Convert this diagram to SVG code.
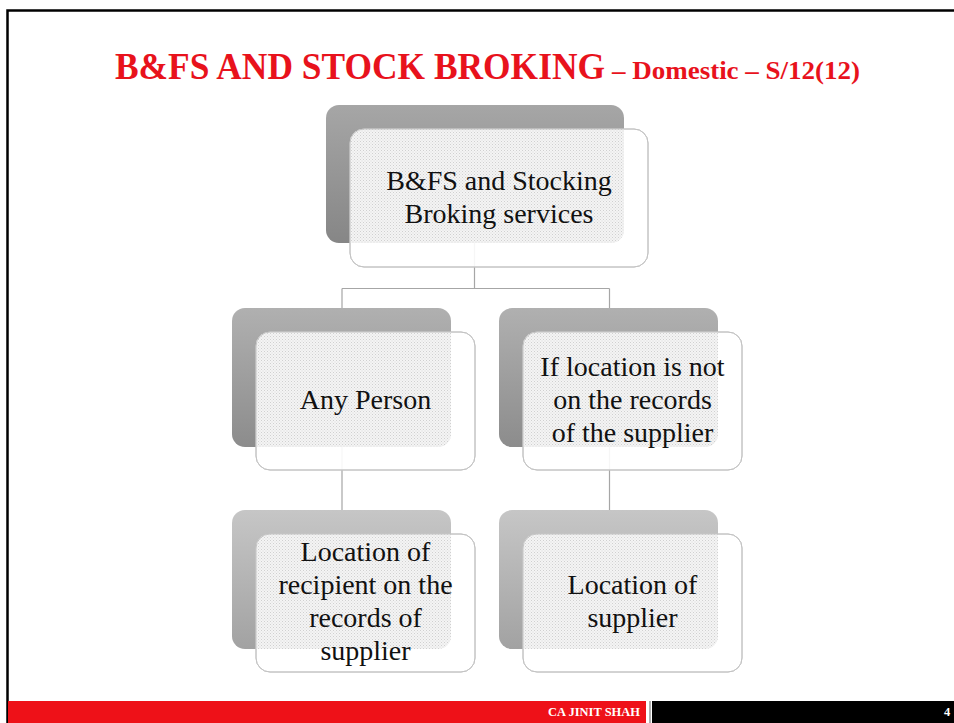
<svg xmlns="http://www.w3.org/2000/svg" width="954" height="723" viewBox="0 0 954 723">
<defs>
<linearGradient id="g1" x1="0" y1="0" x2="0" y2="1"><stop offset="0" stop-color="#a6a6a6"/><stop offset="1" stop-color="#868686"/></linearGradient>
<linearGradient id="g2" x1="0" y1="0" x2="0" y2="1"><stop offset="0" stop-color="#b0b0b0"/><stop offset="1" stop-color="#8c8c8c"/></linearGradient>
<linearGradient id="g3" x1="0" y1="0" x2="0" y2="1"><stop offset="0" stop-color="#c6c6c6"/><stop offset="1" stop-color="#a2a2a2"/></linearGradient>
<pattern id="dots" width="3" height="3" patternUnits="userSpaceOnUse"><rect width="3" height="3" fill="#f4f4f4"/><rect x="0" y="0" width="1" height="1" fill="#d0d0d0"/><rect x="1.5" y="1.5" width="1" height="1" fill="#d8d8d8"/></pattern>
<clipPath id="c0"><rect x="350" y="129" width="298" height="138" rx="14"/></clipPath>
<clipPath id="c1"><rect x="256" y="332" width="219" height="138" rx="14"/></clipPath>
<clipPath id="c2"><rect x="523" y="332" width="219" height="138" rx="14"/></clipPath>
<clipPath id="c3"><rect x="256" y="534" width="219" height="138" rx="14"/></clipPath>
<clipPath id="c4"><rect x="523" y="534" width="219" height="138" rx="14"/></clipPath>
</defs>
<style>
.front{fill:#ffffff;fill-opacity:0.9;stroke:#c4c4c4;stroke-width:1}
.lbl{font-family:"Liberation Serif",serif;font-size:28px;fill:#111111;text-anchor:middle}
.conn{stroke:#a6a6a6;stroke-width:1.2;fill:none}
</style>
<rect x="0" y="0" width="954" height="723" fill="#ffffff"/>
<path d="M7.5 723 V10.5 H954" fill="none" stroke="#000000" stroke-width="2.5"/>
<g id="title">
<text x="115" y="79" font-family="Liberation Serif,serif" font-weight="bold" font-size="37" fill="#e8121c" textLength="490" lengthAdjust="spacingAndGlyphs">B&amp;FS AND STOCK BROKING</text>
<text x="612" y="79" font-family="Liberation Serif,serif" font-weight="bold" font-size="25" fill="#e8121c" textLength="248" lengthAdjust="spacingAndGlyphs">– Domestic – S/12(12)</text>
</g>
<g id="connectors">
<path class="conn" d="M474.5 243 V288.5 M342 288.5 H609.5 M342 288.5 V308 M609.5 288.5 V308"/>
<path class="conn" d="M342 447 V510 M609.5 447 V510"/>
</g>
<g id="node-top">
<rect x="326" y="105" width="298" height="138" rx="13" fill="url(#g1)"/>
<rect class="front" x="350" y="129" width="298" height="138" rx="14"/>
<rect x="326" y="105" width="298" height="138" rx="13" fill="url(#dots)" clip-path="url(#c0)"/>
<rect x="350" y="129" width="298" height="138" rx="14" fill="none" stroke="#c4c4c4"/>
<text class="lbl" x="499" y="190">B&amp;FS and Stocking</text>
<text class="lbl" x="499" y="223">Broking services</text>
</g>
<g id="node-any-person">
<rect x="232" y="308" width="219" height="139" rx="13" fill="url(#g2)"/>
<rect class="front" x="256" y="332" width="219" height="138" rx="14"/>
<rect x="232" y="308" width="219" height="139" rx="13" fill="url(#dots)" clip-path="url(#c1)"/>
<rect x="256" y="332" width="219" height="138" rx="14" fill="none" stroke="#c4c4c4"/>
<text class="lbl" x="365.5" y="409">Any Person</text>
</g>
<g id="node-not-on-records">
<rect x="499" y="308" width="219" height="139" rx="13" fill="url(#g2)"/>
<rect class="front" x="523" y="332" width="219" height="138" rx="14"/>
<rect x="499" y="308" width="219" height="139" rx="13" fill="url(#dots)" clip-path="url(#c2)"/>
<rect x="523" y="332" width="219" height="138" rx="14" fill="none" stroke="#c4c4c4"/>
<text class="lbl" x="632.5" y="376">If location is not</text>
<text class="lbl" x="632.5" y="409">on the records</text>
<text class="lbl" x="632.5" y="442">of the supplier</text>
</g>
<g id="node-location-recipient">
<rect x="232" y="510" width="219" height="139" rx="13" fill="url(#g3)"/>
<rect class="front" x="256" y="534" width="219" height="138" rx="14"/>
<rect x="232" y="510" width="219" height="139" rx="13" fill="url(#dots)" clip-path="url(#c3)"/>
<rect x="256" y="534" width="219" height="138" rx="14" fill="none" stroke="#c4c4c4"/>
<text class="lbl" x="365.5" y="561">Location of</text>
<text class="lbl" x="365.5" y="594">recipient on the</text>
<text class="lbl" x="365.5" y="627">records of</text>
<text class="lbl" x="365.5" y="660">supplier</text>
</g>
<g id="node-location-supplier">
<rect x="499" y="510" width="219" height="139" rx="13" fill="url(#g3)"/>
<rect class="front" x="523" y="534" width="219" height="138" rx="14"/>
<rect x="499" y="510" width="219" height="139" rx="13" fill="url(#dots)" clip-path="url(#c4)"/>
<rect x="523" y="534" width="219" height="138" rx="14" fill="none" stroke="#c4c4c4"/>
<text class="lbl" x="632.5" y="594">Location of</text>
<text class="lbl" x="632.5" y="627">supplier</text>
</g>
<g id="footer">
<rect x="8" y="701" width="638" height="22" fill="#ee1118"/>
<rect x="649" y="701" width="2" height="22" fill="#b0b0b0"/>
<rect x="652" y="701" width="302" height="22" fill="#000000"/>
<text x="640" y="716" font-family="Liberation Serif,serif" font-weight="bold" font-size="12.5" fill="#ffffff" text-anchor="end" textLength="92" lengthAdjust="spacingAndGlyphs">CA JINIT SHAH</text>
<text x="944" y="716" font-family="Liberation Serif,serif" font-weight="bold" font-size="12.5" fill="#ffffff">4</text>
</g>
</svg>
